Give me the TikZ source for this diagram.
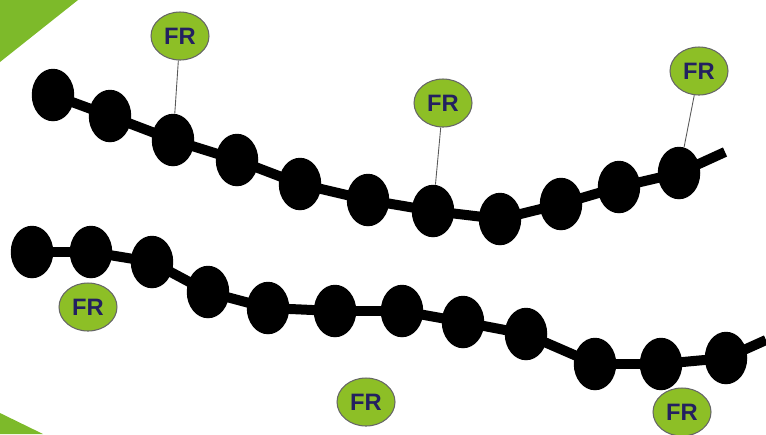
\documentclass[tikz,border=0pt]{standalone}
\usepackage{fontspec}
\setsansfont{Liberation Sans}
\usetikzlibrary{arrows,shapes,positioning}
\definecolor{leaf}{HTML}{7DBA2A}
\definecolor{frfill}{HTML}{8DBF26}
\definecolor{frtext}{HTML}{232060}

\begin{document}
\begin{tikzpicture}[x=0.02cm, y=-0.02cm]
	\tikzset{BeadStyle/.style = {
			shape=ellipse,
			fill=black,
			inner sep=0pt,
			minimum width=0.85cm,
			minimum height=1.05cm
	}}
	\tikzset{FrStyle/.style = {
			shape=ellipse,
			fill=frfill,
			draw=gray!80!black,
			line width=0.6pt,
			inner sep=0pt,
			minimum width=1.16cm,
			minimum height=0.96cm,
			text=frtext,
			font=\sffamily\bfseries\fontsize{13.5}{13.5}\selectfont
	}}
	\tikzset{ChainStyle/.style = {line width=0.2cm, black}}
	\tikzset{LinkStyle/.style = {line width=0.5pt, gray!70!black}}
	\useasboundingbox (0,0) rectangle (766,434);
	
	% corner triangles
	\fill[leaf] (0,0) -- (78,0) -- (0,62) -- cycle;
	\fill[leaf] (0,413) -- (43,434) -- (0,434) -- cycle;
	
	% upper chain
	\node[BeadStyle] (1) at (53,95) {};
	\node[BeadStyle] (2) at (110,116) {};
	\node[BeadStyle] (3) at (173,140) {};
	\node[BeadStyle] (4) at (237,160) {};
	\node[BeadStyle] (5) at (300,184) {};
	\node[BeadStyle] (6) at (368,200) {};
	\node[BeadStyle] (7) at (433,211) {};
	\node[BeadStyle] (8) at (500,219) {};
	\node[BeadStyle] (9) at (561,204) {};
	\node[BeadStyle] (10) at (619,187) {};
	\node[BeadStyle] (11) at (679,173) {};
	\coordinate (e1) at (725,152);
	
	% lower chain
	\node[BeadStyle] (12) at (32,252) {};
	\node[BeadStyle] (13) at (91,252) {};
	\node[BeadStyle] (14) at (152,262) {};
	\node[BeadStyle] (15) at (208,292) {};
	\node[BeadStyle] (16) at (268,308) {};
	\node[BeadStyle] (17) at (335,311) {};
	\node[BeadStyle] (18) at (402,311) {};
	\node[BeadStyle] (19) at (463,322) {};
	\node[BeadStyle] (20) at (526,334) {};
	\node[BeadStyle] (21) at (595,364) {};
	\node[BeadStyle] (22) at (661,364) {};
	\node[BeadStyle] (23) at (726,358) {};
	\coordinate (e2) at (766,340);
	
	% FR labels
	\node[FrStyle] (24) at (180,36) {FR};
	\node[FrStyle] (25) at (443,103) {FR};
	\node[FrStyle] (26) at (699,71) {FR};
	\node[FrStyle] (27) at (88,307) {FR};
	\node[FrStyle] (28) at (366,402) {FR};
	\node[FrStyle] (29) at (682,412) {FR};
	
	\path [-, ChainStyle] (1.center) edge (2.center);
	\path [-, ChainStyle] (2.center) edge (3.center);
	\path [-, ChainStyle] (3.center) edge (4.center);
	\path [-, ChainStyle] (4.center) edge (5.center);
	\path [-, ChainStyle] (5.center) edge (6.center);
	\path [-, ChainStyle] (6.center) edge (7.center);
	\path [-, ChainStyle] (7.center) edge (8.center);
	\path [-, ChainStyle] (8.center) edge (9.center);
	\path [-, ChainStyle] (9.center) edge (10.center);
	\path [-, ChainStyle] (10.center) edge (11.center);
	\path [-, ChainStyle] (11.center) edge (e1);
	\path [-, ChainStyle] (12.center) edge (13.center);
	\path [-, ChainStyle] (13.center) edge (14.center);
	\path [-, ChainStyle] (14.center) edge (15.center);
	\path [-, ChainStyle] (15.center) edge (16.center);
	\path [-, ChainStyle] (16.center) edge (17.center);
	\path [-, ChainStyle] (17.center) edge (18.center);
	\path [-, ChainStyle] (18.center) edge (19.center);
	\path [-, ChainStyle] (19.center) edge (20.center);
	\path [-, ChainStyle] (20.center) edge (21.center);
	\path [-, ChainStyle] (21.center) edge (22.center);
	\path [-, ChainStyle] (22.center) edge (23.center);
	\path [-, ChainStyle] (23.center) edge (e2);
	
	\path [-, LinkStyle] (24) edge (3);
	\path [-, LinkStyle] (25) edge (7);
	\path [-, LinkStyle] (26) edge (11);
\end{tikzpicture}
\end{document}
